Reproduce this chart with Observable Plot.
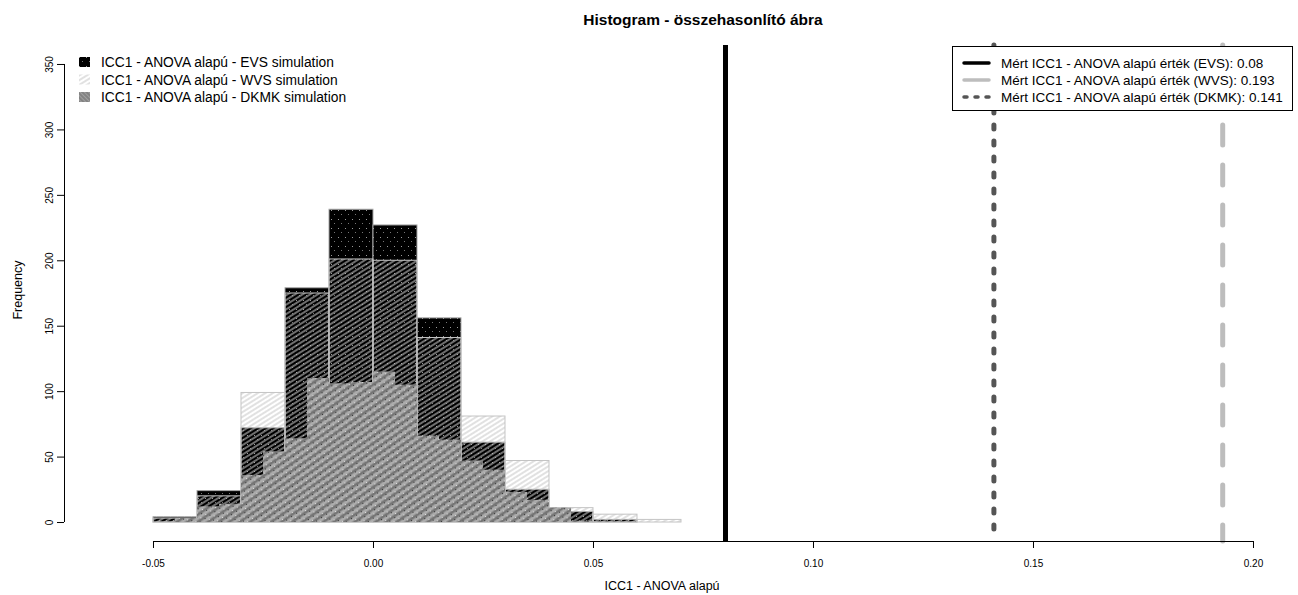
<!DOCTYPE html>
<html><head><meta charset="utf-8">
<script src="https://cdn.jsdelivr.net/npm/d3@7"></script>
<script src="https://cdn.jsdelivr.net/npm/@observablehq/plot@0.6"></script>
<style>body{margin:0;background:#fff} svg{display:block}</style>
</head><body><div id="chart"></div>
<script>
// ---- data ----
const evsEdges  = [-0.05,-0.04,-0.03,-0.02,-0.01,0.00,0.01,0.02,0.03,0.04,0.05,0.06,0.07];
const evsCounts = [4,24,72,179,239,227,156,61,25,8,2,0];
const wvsEdges  = [-0.05,-0.04,-0.03,-0.02,-0.01,0.00,0.01,0.02,0.03,0.04,0.05,0.06,0.07];
const wvsCounts = [3,20,99,175,201,200,141,81,47,11,6,2];
const dkmkEdges = [-0.05,-0.045,-0.04,-0.035,-0.03,-0.025,-0.02,-0.015,-0.01,-0.005,0.00,0.005,0.01,0.015,0.02,0.025,0.03,0.035,0.04,0.045,0.05];
const dkmkCounts= [0,3,12,14,36,54,64,110,106,107,115,105,66,63,47,40,23,17,11,1];
const observedLabels = ["EVS","WVS","DKMK"];
const observedValues = [0.08,0.193,0.141];
const xTicks = [-0.05,0.00,0.05,0.10,0.15,0.20];
const yTicks = [0,50,100,150,200,250,300,350];
const histLegend = ["ICC1 - ANOVA alapú - EVS simulation","ICC1 - ANOVA alapú - WVS simulation","ICC1 - ANOVA alapú - DKMK simulation"];
const lineLegend = ["Mért ICC1 - ANOVA alapú érték (EVS): 0.08","Mért ICC1 - ANOVA alapú érték (WVS): 0.193","Mért ICC1 - ANOVA alapú érték (DKMK): 0.141"];

const toBins = (edges, counts) => counts.map((c,i)=>({x1:edges[i], x2:edges[i+1], y:c}));
const evs = toBins(evsEdges, evsCounts);
const wvs = toBins(wvsEdges, wvsCounts);
const dkmk = toBins(dkmkEdges, dkmkCounts).filter(d=>d.y>0);
const obs = observedLabels.map((k,i)=>({k, v:observedValues[i]}));

const W = 1298, H = 595;
const font = "'Liberation Sans', Arial, sans-serif";
const narrow = "'Liberation Sans Narrow', 'Arial Narrow', 'Liberation Sans', sans-serif";

const svg = Plot.plot({
  width: W, height: H,
  marginLeft: 64, marginRight: 5, marginTop: 45, marginBottom: 54,
  style: {fontFamily: font, background: "#fff", color: "#000"},
  x: {domain: [-0.070227, 0.209091]},
  y: {domain: [-14.5, 364.5]},
  marks: [
    Plot.rectY(evs, {x1:"x1", x2:"x2", y1:0, y2:"y", fill:"url(#pEVS)", stroke:"#a8a8a8", strokeWidth:1}),
    Plot.rectY(wvs, {x1:"x1", x2:"x2", y1:0, y2:"y", fill:"url(#pWVS)", stroke:"#c4c4c4", strokeWidth:1}),
    Plot.rectY(dkmk, {x1:"x1", x2:"x2", y1:0, y2:"y", fill:"url(#pDK)", stroke:"none"}),
    Plot.ruleX(obs.filter(d=>d.k==="EVS"), {x:"v", stroke:"#000", strokeWidth:5}),
    Plot.ruleX(obs.filter(d=>d.k==="WVS"), {x:"v", stroke:"#bdbdbd", strokeWidth:5, strokeDasharray:"20,20", strokeLinecap:"round"}),
    Plot.ruleX(obs.filter(d=>d.k==="DKMK"), {x:"v", stroke:"#555", strokeWidth:5, strokeDasharray:"4,12", strokeLinecap:"round"}),
    Plot.ruleY([-14.5], {x1: xTicks[0], x2: xTicks[xTicks.length-1], stroke:"#000"}),
    Plot.ruleX([-0.070227], {y1: yTicks[0], y2: yTicks[yTicks.length-1], stroke:"#000"}),
    Plot.axisX({ticks: xTicks, tickSize: 7, tickPadding: 11, tickFormat: d=>d.toFixed(2), fontFamily: narrow, fontSize: 10, label: null}),
    Plot.axisY({ticks: yTicks, tickSize: 7, tickPadding: 5, tickRotate: -90, fontSize: 10, label: null})
  ]
});

const s = d3.select(svg);
s.insert("defs", ":first-child").html(`
  <pattern id="pEVS" patternUnits="userSpaceOnUse" width="7" height="9">
    <rect width="7" height="9" fill="#000"/>
    <rect x="2" y="3" width="1" height="1" fill="#9a9a9a"/>
    <rect x="5" y="7" width="1" height="1" fill="#777"/>
  </pattern>
  <pattern id="pWVS" patternUnits="userSpaceOnUse" width="8" height="4" patternTransform="rotate(-32)">
    <line x1="0" y1="2" x2="8" y2="2" stroke="#c8c8c8" stroke-width="1.1"/>
  </pattern>
  <pattern id="pDK" patternUnits="userSpaceOnUse" width="6" height="6" patternTransform="rotate(-35)">
    <rect width="6" height="6" fill="#969696"/>
    <line x1="0" y1="1" x2="6" y2="1" stroke="#555" stroke-width="1"/>
    <line x1="0" y1="4" x2="6" y2="4" stroke="#c4c4c4" stroke-width="1"/>
    <rect x="2" y="2" width="1" height="1" fill="#333"/>
    <rect x="5" y="5" width="1" height="1" fill="#e0e0e0"/>
  </pattern>
  <pattern id="pDKs" patternUnits="userSpaceOnUse" width="3" height="3" patternTransform="rotate(45)">
    <rect width="3" height="3" fill="#a0a0a0"/>
    <line x1="0" y1="1" x2="3" y2="1" stroke="#666" stroke-width="1"/>
  </pattern>
`);

const over = s.append("g").attr("text-anchor", "start").attr("font-family", font);

// title and axis labels
over.append("text").attr("x", 703).attr("y", 25).attr("text-anchor","middle")
  .attr("font-weight","bold").attr("font-size", 15.5).style("fill","#000").text("Histogram - összehasonlító ábra");
over.append("text").attr("x", 662).attr("y", 590).attr("text-anchor","middle")
  .attr("font-size", 12.5).style("fill","#000").text("ICC1 - ANOVA alapú");
over.append("text").attr("transform","translate(22,290) rotate(-90)").attr("text-anchor","middle")
  .attr("font-size", 12.5).style("fill","#000").text("Frequency");

// left legend (histograms)
const lf = ["url(#pEVS)","url(#pWVS)","url(#pDKs)"];
histLegend.forEach((t,i)=>{
  const y = 62 + i*17.5;
  over.append("rect").attr("x",79).attr("y",y-5).attr("width",11).attr("height",10).style("fill",lf[i]);
  over.append("text").attr("x",101).attr("y",y+5).attr("text-anchor","start").attr("font-size",13.8).style("fill","#000").text(t);
});

// right legend (observed values)
over.append("rect").attr("x",952.5).attr("y",46.5).attr("width",340).attr("height",64)
  .style("fill","#ffffff").style("stroke","#000").style("stroke-width","1px");
const ls = [{c:"#000",d:null},{c:"#bdbdbd",d:null},{c:"#555",d:"3,8"}];
lineLegend.forEach((t,i)=>{
  const y = 63 + i*17;
  over.append("line").attr("x1",964).attr("x2",989).attr("y1",y).attr("y2",y)
    .style("stroke",ls[i].c).style("stroke-width","3.5px").attr("stroke-dasharray",ls[i].d).attr("stroke-linecap","round");
  over.append("text").attr("x",1001).attr("y",y+5).attr("text-anchor","start").attr("font-size",13.5).style("fill","#000").text(t);
});

document.getElementById("chart").appendChild(svg);
</script>
</body></html>
